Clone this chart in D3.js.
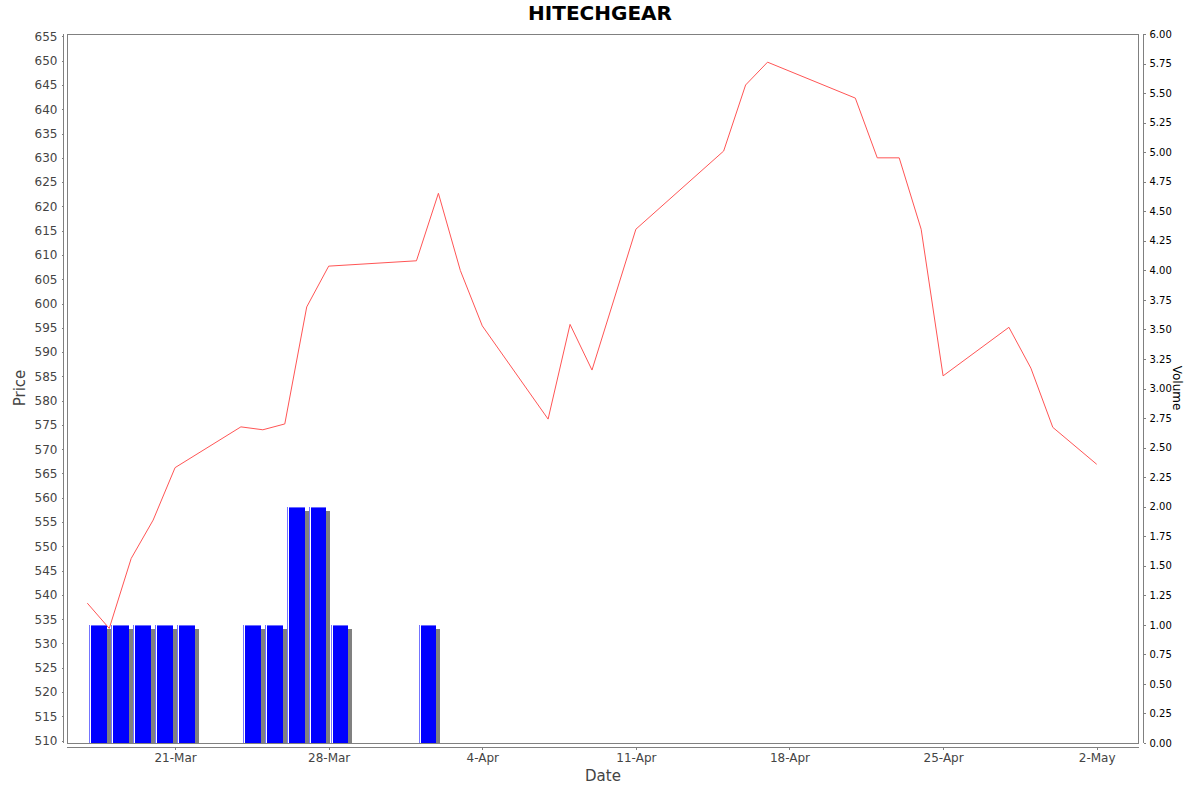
<!DOCTYPE html>
<html>
<head>
<meta charset="utf-8">
<script src="https://cdn.jsdelivr.net/npm/d3@7"></script>
<style>
  html, body { margin: 0; padding: 0; background: #fff; }
  svg { display: block; font-family: "DejaVu Sans", sans-serif; }
</style>
</head>
<body>
<svg id="chart" width="1200" height="792"></svg>
<script>
// ---------- data ----------
const title = "HITECHGEAR";
const priceDates = ["2025-03-17","2025-03-18","2025-03-19","2025-03-20","2025-03-21",
  "2025-03-24","2025-03-25","2025-03-26","2025-03-27","2025-03-28",
  "2025-04-01","2025-04-02","2025-04-03","2025-04-04",
  "2025-04-07","2025-04-08","2025-04-09","2025-04-11",
  "2025-04-15","2025-04-16","2025-04-17",
  "2025-04-21","2025-04-22","2025-04-23","2025-04-24","2025-04-25",
  "2025-04-28","2025-04-29","2025-04-30","2025-05-02"];
const prices = [538.3, 533.1, 547.5, 555.4, 566.2,
  574.6, 574.0, 575.2, 599.3, 607.7,
  608.8, 622.7, 606.8, 595.4,
  576.2, 595.7, 586.3, 615.3,
  631.4, 645.0, 649.7,
  642.3, 630.0, 630.0, 615.3, 585.1,
  595.1, 586.7, 574.5, 566.9];
const volumeDates = ["2025-03-17","2025-03-18","2025-03-19","2025-03-20","2025-03-21",
  "2025-03-24","2025-03-25","2025-03-26","2025-03-27","2025-03-28","2025-04-01"];
const volumes = [1, 1, 1, 1, 1, 1, 1, 2, 2, 1, 1];
const dateTicks = ["2025-03-21","2025-03-28","2025-04-04","2025-04-11","2025-04-18","2025-04-25","2025-05-02"];
const priceTicks = [510,515,520,525,530,535,540,545,550,555,560,565,570,575,580,585,590,595,600,605,610,615,620,625,630,635,640,645,650,655];
const volumeTicks = [0,0.25,0.5,0.75,1,1.25,1.5,1.75,2,2.25,2.5,2.75,3,3.25,3.5,3.75,4,4.25,4.5,4.75,5,5.25,5.5,5.75,6];
const priceDomain = [509.5, 655.5];
const volumeDomain = [0, 6];

// ---------- layout ----------
const plot = { left: 67, top: 34, right: 1139, bottom: 743 };
const parse = d3.utcParse("%Y-%m-%d");
const DAY = 864e5;
const first = parse(priceDates[0]);
const last = parse(priceDates[priceDates.length - 1]);

const x = d3.scaleUtc()
  .domain([new Date(+first - 0.925 * DAY), new Date(+last + 1.928 * DAY)])
  .range([plot.left, plot.right]);
const yP = d3.scaleLinear().domain(priceDomain).range([plot.bottom, plot.top]);
const yV = d3.scaleLinear().domain(volumeDomain).range([plot.bottom, plot.top]);

const svg = d3.select("#chart");
const grey = "#808080";

// title
svg.append("text").attr("x", 600).attr("y", 20)
  .attr("text-anchor", "middle").attr("font-size", 20).attr("font-weight", "bold")
  .attr("fill", "#000").text(title);

// volume bars
const gBars = svg.append("g").attr("shape-rendering", "crispEdges");
volumeDates.forEach((ds, i) => {
  const d = parse(ds);
  const x0 = x(d), x1 = x(new Date(+d + DAY));
  const w = x1 - x0;
  const bx0 = x0 + 0.1 * w, bx1 = x0 + 0.9 * w;
  const top = yV(volumes[i]), bot = yV(0);
  // shadow
  gBars.append("rect").attr("x", bx0 + 4).attr("y", top + 4)
    .attr("width", bx1 - bx0).attr("height", Math.max(0, bot - top - 4)).attr("fill", grey);
  const sx = Math.round(bx0);
  // light edge
  gBars.append("rect").attr("x", sx).attr("y", top).attr("width", 1)
    .attr("height", bot - top).attr("fill", "#7474ff");
  // white gap
  gBars.append("rect").attr("x", sx + 1).attr("y", top).attr("width", 1)
    .attr("height", bot - top).attr("fill", "#ffffff");
  // body
  gBars.append("rect").attr("x", sx + 2).attr("y", top).attr("width", bx1 - sx - 2)
    .attr("height", bot - top).attr("fill", "#0000ff");
  gBars.append("rect").attr("x", sx + 2).attr("y", top).attr("width", bx1 - sx - 2)
    .attr("height", 1).attr("fill", "#6a6aff");
});

// price line
const line = d3.line().x((d, i) => x(parse(priceDates[i]))).y(d => yP(d));
svg.append("path").datum(prices).attr("d", line)
  .attr("fill", "none").attr("stroke", "#ff5555").attr("stroke-width", 1);

// plot border
svg.append("rect").attr("x", plot.left + 0.5).attr("y", plot.top + 0.5)
  .attr("width", plot.right - plot.left - 1).attr("height", plot.bottom - plot.top)
  .attr("fill", "none").attr("stroke", grey).attr("shape-rendering", "crispEdges");

function styleAxis(g, color) {
  g.select(".domain").attr("stroke", grey);
  g.selectAll(".tick line").attr("stroke", grey);
  g.selectAll(".tick text").attr("fill", color);
  g.attr("shape-rendering", "crispEdges");
}

// left axis
const gL = svg.append("g").attr("transform", "translate(63.5,0)")
  .call(d3.axisLeft(yP).tickValues(priceTicks).tickFormat(d3.format("d"))
    .tickSizeInner(2).tickSizeOuter(0).tickPadding(4));
gL.attr("font-size", 12).attr("font-family", "DejaVu Sans");
gL.select(".domain").attr("d", `M0,${plot.top}V${plot.bottom}`);
styleAxis(gL, "#444");

// right axis
const gR = svg.append("g").attr("transform", "translate(1143.5,0)")
  .call(d3.axisRight(yV).tickValues(volumeTicks).tickFormat(d3.format(".2f"))
    .tickSizeInner(2).tickSizeOuter(0).tickPadding(4));
gR.attr("font-size", 10).attr("font-family", "DejaVu Sans");
gR.select(".domain").attr("d", `M0,${plot.top}V${plot.bottom}`);
styleAxis(gR, "#000");

// bottom axis
const gB = svg.append("g").attr("transform", "translate(0,747.5)")
  .call(d3.axisBottom(x).tickValues(dateTicks.map(parse)).tickFormat(d3.utcFormat("%-d-%b"))
    .tickSizeInner(2).tickSizeOuter(0).tickPadding(4));
gB.attr("font-size", 12).attr("font-family", "DejaVu Sans");
gB.select(".domain").attr("d", `M${plot.left},0H${plot.right}`);
styleAxis(gB, "#444");

// axis labels
svg.append("text").attr("transform", "translate(25,388) rotate(-90)")
  .attr("text-anchor", "middle").attr("font-size", 15).attr("fill", "#444").text("Price");
svg.append("text").attr("transform", "translate(1173,388) rotate(90)")
  .attr("text-anchor", "middle").attr("font-size", 12).attr("fill", "#000").text("Volume");
svg.append("text").attr("x", 603).attr("y", 781)
  .attr("text-anchor", "middle").attr("font-size", 15).attr("fill", "#444").text("Date");
</script>
</body>
</html>
